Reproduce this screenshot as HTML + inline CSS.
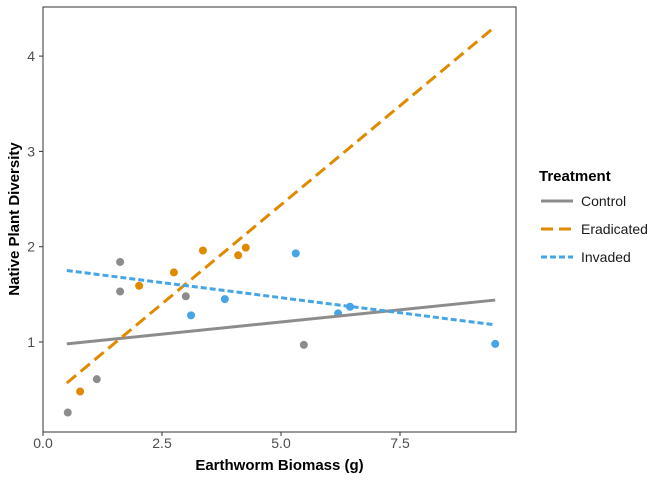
<!DOCTYPE html>
<html><head><meta charset="utf-8"><style>
body{margin:0;background:#fff;font-family:"Liberation Sans",Arial,sans-serif}
svg text{font-family:"Liberation Sans",Arial,sans-serif}
</style></head><body>
<svg id="chart" width="672" height="480"></svg>
<script>
const xTicks=[0,2.5,5,7.5];
const xTickLabels=["0.0","2.5","5.0","7.5"];
const yTicks=[1,2,3,4];
const yTickLabels=["1","2","3","4"];
const seriesNames=["Control","Eradicated","Invaded"];
const controlX=[0.52,1.13,1.62,1.62,3.0,5.48];
const controlY=[0.26,0.61,1.84,1.53,1.48,0.97];
const eradX=[0.78,2.02,2.75,3.36,4.1,4.26];
const eradY=[0.48,1.59,1.73,1.96,1.91,1.99];
const invX=[3.11,3.82,5.31,6.2,6.45,9.5];
const invY=[1.28,1.45,1.93,1.30,1.37,0.98];
const fitX=[0.5,9.5];
const controlFit=[0.98,1.44];
const eradFit=[0.57,4.31];
const invFit=[1.75,1.18];

const svg=document.getElementById('chart');
const NS='http://www.w3.org/2000/svg';
const px0=43,px1=516,py0=7,py1=432;
const sx=v=>43+v*47.6;
const sy=v=>342-(v-1)*95.3;
function mk(t,a,p){const e=document.createElementNS(NS,t);for(const k in a)e.setAttribute(k,a[k]);(p||svg).appendChild(e);return e;}
const colors=["#8c8c8c","#e08a00","#45a5e6"];
const dashes=["","12,6","6,3"];
const panel=mk('rect',{x:px0,y:py0,width:px1-px0,height:py1-py0,fill:'#fff',stroke:'#333','stroke-width':1});


xTicks.forEach((t,i)=>{
  const l=mk('line',{x1:sx(t),x2:sx(t),y1:py1,y2:py1+4,stroke:'#333'});
  
  
  const tx=mk('text',{x:sx(t),y:py1+16,'text-anchor':'middle','font-size':14,fill:'#4d4d4d'});
  tx.textContent=xTickLabels[i];
  
  
});
yTicks.forEach((t,i)=>{
  const l=mk('line',{x1:px0-4,x2:px0,y1:sy(t),y2:sy(t),stroke:'#333'});
  
  
  const tx=mk('text',{x:px0-8,y:sy(t)+5,'text-anchor':'end','font-size':14,fill:'#4d4d4d'});
  tx.textContent=yTickLabels[i];
  
  
});
const xs=[controlX,eradX,invX],ys=[controlY,eradY,invY],fits=[controlFit,eradFit,invFit];
for(let s=0;s<3;s++){
  for(let i=0;i<xs[s].length;i++){
    const c=mk('circle',{cx:sx(xs[s][i]),cy:sy(ys[s][i]),r:4,fill:colors[s]});
    
    
  }
}
for(let s=0;s<3;s++){
  const l=mk('line',{x1:sx(fitX[0]),y1:sy(fits[s][0]),x2:sx(fitX[1]),y2:sy(fits[s][1]),stroke:colors[s],'stroke-width':3,'stroke-dasharray':dashes[s]});
  
  
}
const xt=mk('text',{x:(px0+px1)/2,y:470,'text-anchor':'middle','font-size':15,'font-weight':'bold'});
xt.textContent='Earthworm Biomass (g)';


const yt=mk('text',{x:0,y:0,'text-anchor':'middle','font-size':15,'font-weight':'bold',transform:'translate(19,219) rotate(-90)'});
yt.textContent='Native Plant Diversity';


const lt=mk('text',{x:539,y:181,'font-size':15,'font-weight':'bold'});
lt.textContent='Treatment';


for(let s=0;s<3;s++){
  const y=201+s*28;
  const l=mk('line',{x1:541,x2:573,y1:y,y2:y,stroke:colors[s],'stroke-width':3,'stroke-dasharray':dashes[s]});
  
  
  const t=mk('text',{x:581,y:y+5,'font-size':14,fill:'#1a1a1a'});
  t.textContent=seriesNames[s];
  
  
}
</script>
</body></html>
